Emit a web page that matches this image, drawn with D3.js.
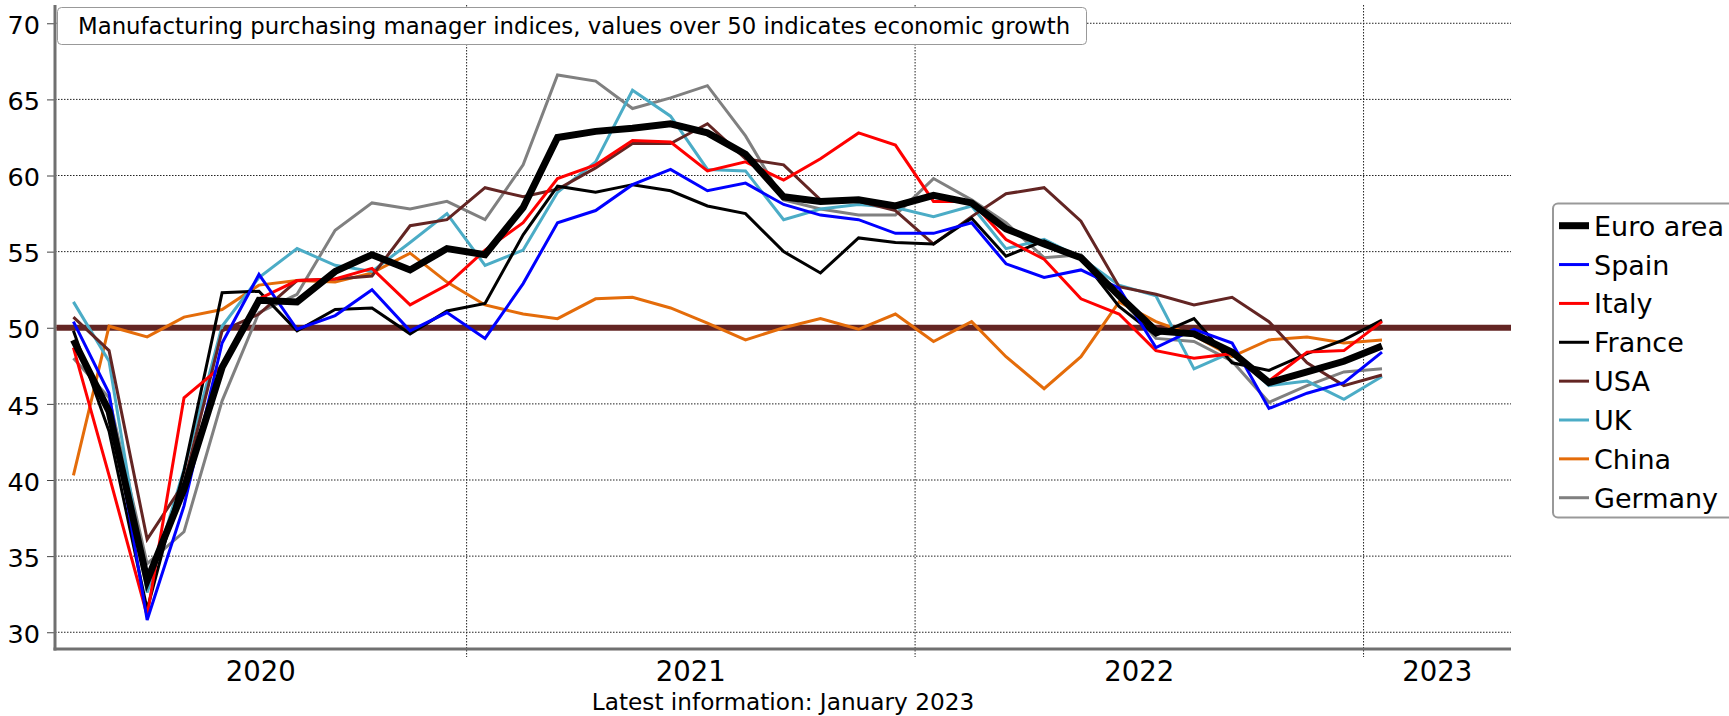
<!DOCTYPE html>
<html>
<head>
<meta charset="utf-8">
<script src="https://cdn.jsdelivr.net/npm/d3@7"></script>
<style>
	body { margin: 0; background: white; }
	text { font-family: "DejaVu Sans", Verdana, sans-serif; fill: black; }
</style>
</head>
<body>
<script>

// monthly PMI readings, Feb 2020 .. Jan 2023
var months = [
	"2020-02", "2020-03", "2020-04", "2020-05", "2020-06", "2020-07", "2020-08", "2020-09", "2020-10", "2020-11", "2020-12",
	"2021-01", "2021-02", "2021-03", "2021-04", "2021-05", "2021-06", "2021-07", "2021-08", "2021-09", "2021-10", "2021-11", "2021-12",
	"2022-01", "2022-02", "2022-03", "2022-04", "2022-05", "2022-06", "2022-07", "2022-08", "2022-09", "2022-10", "2022-11", "2022-12",
	"2023-01"
];

var euroArea = [49.2, 44.5, 33.4, 39.4, 47.4, 51.8, 51.7, 53.7, 54.8, 53.8, 55.2, 54.8, 57.9, 62.5, 62.9, 63.1, 63.4, 62.8, 61.4, 58.6, 58.3, 58.4, 58.0, 58.7, 58.2, 56.5, 55.5, 54.6, 52.1, 49.8, 49.6, 48.4, 46.4, 47.1, 47.8, 48.8];
var spain    = [50.4, 45.7, 30.8, 38.3, 49.0, 53.5, 49.9, 50.8, 52.5, 49.8, 51.0, 49.3, 52.9, 56.9, 57.7, 59.4, 60.4, 59.0, 59.5, 58.1, 57.4, 57.1, 56.2, 56.2, 56.9, 54.2, 53.3, 53.8, 52.6, 48.7, 49.9, 49.0, 44.7, 45.7, 46.4, 48.4];
var italy    = [48.7, 40.3, 31.1, 45.4, 47.5, 51.9, 53.1, 53.2, 53.9, 51.5, 52.8, 55.1, 56.9, 59.8, 60.7, 62.3, 62.2, 60.3, 60.9, 59.7, 61.1, 62.8, 62.0, 58.3, 58.3, 55.8, 54.5, 51.9, 50.9, 48.5, 48.0, 48.3, 46.5, 48.4, 48.5, 50.4];
var france   = [49.8, 43.2, 31.5, 40.6, 52.3, 52.4, 49.8, 51.2, 51.3, 49.6, 51.1, 51.6, 56.1, 59.3, 58.9, 59.4, 59.0, 58.0, 57.5, 55.0, 53.6, 55.9, 55.6, 55.5, 57.2, 54.7, 55.7, 54.6, 51.4, 49.5, 50.6, 47.7, 47.2, 48.3, 49.2, 50.5];
var usa      = [50.7, 48.5, 36.1, 39.8, 49.8, 50.9, 53.1, 53.2, 53.4, 56.7, 57.1, 59.2, 58.6, 59.1, 60.5, 62.1, 62.1, 63.4, 61.1, 60.7, 58.4, 58.3, 57.7, 55.5, 57.3, 58.8, 59.2, 57.0, 52.7, 52.2, 51.5, 52.0, 50.4, 47.7, 46.2, 46.9];
var uk       = [51.7, 47.8, 32.6, 40.7, 50.1, 53.3, 55.2, 54.1, 53.7, 55.6, 57.5, 54.1, 55.1, 58.9, 60.9, 65.6, 63.9, 60.4, 60.3, 57.1, 57.8, 58.1, 57.9, 57.3, 58.0, 55.2, 55.8, 54.6, 52.8, 52.1, 47.3, 48.4, 46.2, 46.5, 45.3, 46.8];
var china    = [40.3, 50.1, 49.4, 50.7, 51.2, 52.8, 53.1, 53.0, 53.6, 54.9, 53.0, 51.5, 50.9, 50.6, 51.9, 52.0, 51.3, 50.3, 49.2, 50.0, 50.6, 49.9, 50.9, 49.1, 50.4, 48.1, 46.0, 48.1, 51.7, 50.4, 49.5, 48.1, 49.2, 49.4, 49.0, 49.2];
var germany  = [48.0, 45.4, 34.5, 36.6, 45.2, 51.0, 52.2, 56.4, 58.2, 57.8, 58.3, 57.1, 60.7, 66.6, 66.2, 64.4, 65.1, 65.9, 62.6, 58.4, 57.8, 57.4, 57.4, 59.8, 58.4, 56.9, 54.6, 54.8, 52.0, 49.3, 49.1, 47.8, 45.1, 46.2, 47.1, 47.3];

var seriesNames  = ["Euro area", "Spain", "Italy", "France", "USA", "UK", "China", "Germany"];
var seriesValues = [euroArea, spain, italy, france, usa, uk, china, germany];
var seriesColors = ["#000000", "#0000ff", "#ff0000", "#000000", "#632523", "#4bacc6", "#e46c0a", "#808080"];
var seriesWidths = [7, 3, 3, 3, 3, 3, 3, 3];

var yTicks = [30, 35, 40, 45, 50, 55, 60, 65, 70];
var yearLabels = ["2020", "2021", "2022", "2023"];
var threshold = 50;

var titleText = "Manufacturing purchasing manager indices, values over 50 indicates economic growth";
var footerText = "Latest information: January 2023";

var width = 1729;
var height = 716;

var plot = {left: 55, right: 1511, top: 5, bottom: 649};

var parseMonth = d3.timeParse("%Y-%m");
var midMonth = s => {
	var d = parseMonth(s);
	return new Date(d.getFullYear(), d.getMonth(), 16);
};

var xScale = d3.scaleTime()
	.domain([new Date(2020, 1, 1), new Date(2023, 4, 1)])
	.range([plot.left, plot.right]);

var yScale = d3.scaleLinear()
	.domain([28.9, 71.2])
	.range([plot.bottom, plot.top]);

var svg = d3.select("body").append("svg")
	.attr("width", width)
	.attr("height", height)
	.style("display", "block")
	.style("background", "white");

// grid
var grid = svg.append("g").attr("class", "grid");

grid.selectAll(".hgrid")
	.data(yTicks)
	.enter().append("line")
		.attr("class", "hgrid")
		.attr("x1", plot.left)
		.attr("x2", plot.right)
		.attr("y1", d => yScale(d))
		.attr("y2", d => yScale(d))
		.attr("stroke", "#222")
		.attr("stroke-width", 1)
		.attr("stroke-dasharray", "1.5,1.5");

var yearBounds = yearLabels.slice(1).map(y => new Date(+y, 0, 1));

grid.selectAll(".vgrid")
	.data(yearBounds)
	.enter().append("line")
		.attr("class", "vgrid")
		.attr("x1", d => xScale(d))
		.attr("x2", d => xScale(d))
		.attr("y1", plot.top)
		.attr("y2", plot.bottom + 8)
		.attr("stroke", "#222")
		.attr("stroke-width", 1)
		.attr("stroke-dasharray", "1.5,1.5");

// y axis
var yAxis = svg.append("g")
	.attr("class", "yAxis")
	.attr("transform", "translate(" + plot.left + ",0)")
	.call(d3.axisLeft(yScale).tickValues(yTicks).tickSize(8).tickPadding(7));

yAxis.select(".domain").remove();
yAxis.selectAll(".tick line").attr("stroke", "#444").attr("stroke-width", 1);
yAxis.selectAll(".tick text")
	.style("font-size", "25.5px")
	.attr("fill", "black")
	.attr("dy", "0.4em");

// axis lines
svg.append("line")
	.attr("x1", plot.left).attr("x2", plot.left)
	.attr("y1", plot.top).attr("y2", plot.bottom + 1.5)
	.attr("stroke", "#707070").attr("stroke-width", 3);

svg.append("line")
	.attr("x1", plot.left - 1.5).attr("x2", plot.right)
	.attr("y1", plot.bottom).attr("y2", plot.bottom)
	.attr("stroke", "#707070").attr("stroke-width", 3);

// year labels centred in each year span (clipped to the axis)
var x0 = xScale.domain()[0], x1 = xScale.domain()[1];
svg.append("g").selectAll("text")
	.data(yearLabels)
	.enter().append("text")
		.attr("x", d => {
			var a = d3.max([new Date(+d, 0, 1), x0]);
			var b = d3.min([new Date(+d + 1, 0, 1), x1]);
			return (xScale(a) + xScale(b))/2;
		})
		.attr("y", 681)
		.attr("text-anchor", "middle")
		.style("font-size", "27.5px")
		.text(d => d);

// threshold line
svg.append("line")
	.attr("x1", plot.left + 1.5).attr("x2", plot.right)
	.attr("y1", yScale(threshold)).attr("y2", yScale(threshold))
	.attr("stroke", "#632523")
	.attr("stroke-width", 6);

// series
var line = d3.line()
	.x((d, i) => xScale(midMonth(months[i])))
	.y(d => yScale(d));

var order = d3.range(seriesNames.length).reverse();

svg.append("g").attr("class", "series")
	.selectAll("path")
	.data(order)
	.enter().append("path")
		.attr("d", k => line(seriesValues[k]))
		.attr("fill", "none")
		.attr("stroke", k => seriesColors[k])
		.attr("stroke-width", k => seriesWidths[k])
		.attr("stroke-linejoin", "miter");

// title box
var title = svg.append("g").attr("class", "title");
title.append("rect")
	.attr("x", 57.5).attr("y", 7.5)
	.attr("width", 1029).attr("height", 37)
	.attr("rx", 4).attr("ry", 4)
	.attr("fill", "white")
	.attr("stroke", "#999")
	.attr("stroke-width", 1);
title.append("text")
	.attr("x", 78).attr("y", 34)
	.style("font-size", "22.8px")
	.text(titleText);

// legend
var legend = svg.append("g").attr("class", "legend");
legend.append("rect")
	.attr("x", 1553).attr("y", 203.5)
	.attr("width", 200).attr("height", 314)
	.attr("rx", 5).attr("ry", 5)
	.attr("fill", "white")
	.attr("stroke", "#999")
	.attr("stroke-width", 2);

var legendItem = legend.selectAll(".item")
	.data(seriesNames)
	.enter().append("g")
		.attr("class", "item")
		.attr("transform", (d, i) => "translate(1559," + (225.7 + i*38.86) + ")");

legendItem.append("line")
	.attr("x1", 0).attr("x2", 30)
	.attr("stroke", (d, i) => seriesColors[i])
	.attr("stroke-width", (d, i) => seriesWidths[i]);

legendItem.append("text")
	.attr("x", 35).attr("y", 10)
	.style("font-size", "27px")
	.text(d => d);

// footer
svg.append("text")
	.attr("x", (plot.left + plot.right)/2)
	.attr("y", 710)
	.attr("text-anchor", "middle")
	.style("font-size", "23.2px")
	.text(footerText);

</script>
</body>
</html>
